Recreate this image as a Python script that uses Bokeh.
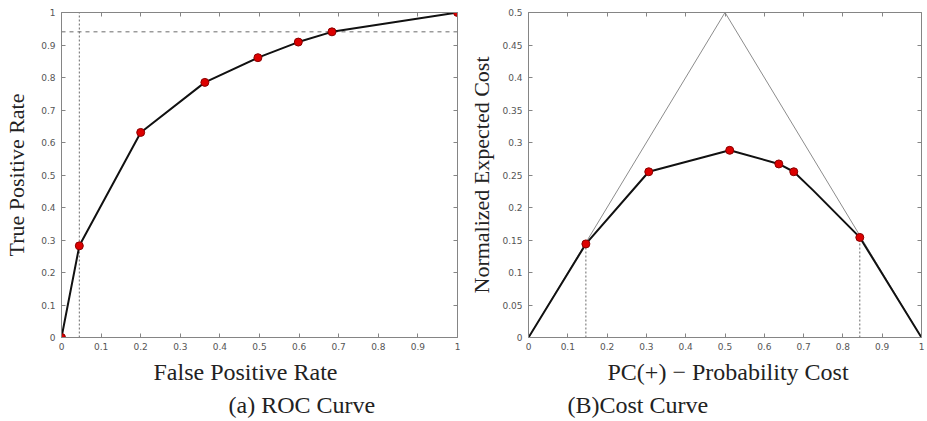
from bokeh.plotting import figure
from bokeh.models import FixedTicker, LinearAxis, Range1d, Title
from bokeh.layouts import row
from bokeh.embed import file_html
from bokeh.resources import INLINE

# ---------------- data ----------------
roc_fpr = [0.0, 0.045, 0.2, 0.362, 0.496, 0.598, 0.683, 1.0]
roc_tpr = [0.0, 0.282, 0.631, 0.785, 0.861, 0.909, 0.9405, 1.0]
roc_ref_fpr = 0.045
roc_ref_tpr = 0.9405

cost_line_pc = [0.0, 0.146, 0.306, 0.512, 0.637, 0.675, 0.725, 0.843, 1.0]
cost_line_nec = [0.0, 0.144, 0.255, 0.288, 0.267, 0.255, 0.226, 0.154, 0.0]
cost_pt_pc = [0.146, 0.306, 0.512, 0.637, 0.675, 0.843]
cost_pt_nec = [0.144, 0.255, 0.288, 0.267, 0.255, 0.154]
trivial_pc = [0.0, 0.5, 1.0]
trivial_nec = [0.0, 0.5, 0.0]
drop_pc = [0.146, 0.843]
drop_nec = [0.144, 0.154]

unit_ticks = [0.0, 0.1, 0.2, 0.3, 0.4, 0.5, 0.6, 0.7, 0.8, 0.9, 1.0]
unit_tick_labels = ["0", "0.1", "0.2", "0.3", "0.4", "0.5", "0.6", "0.7", "0.8", "0.9", "1"]
cost_y_ticks = [0.0, 0.05, 0.1, 0.15, 0.2, 0.25, 0.3, 0.35, 0.4, 0.45, 0.5]
cost_y_tick_labels = ["0", "0.05", "0.1", "0.15", "0.2", "0.25", "0.3", "0.35", "0.4", "0.45", "0.5"]

roc_x_title = "False Positive Rate"
roc_y_title = "True Positive Rate"
roc_caption = "(a) ROC Curve"
cost_x_title = "PC(+) \u2212 Probability Cost"
cost_y_title = "Normalized Expected Cost"
cost_caption = "(B)Cost Curve"

# ---------------- style ----------------
AXIS_COLOR = "#858585"
TICK_FONT = "DejaVu Sans"
SERIF = "Liberation Serif"
TEXT_COLOR = "#222222"
RED = "#dd0000"
RED_EDGE = "#8a0000"


def style_axis(ax, ticks, labels, show_labels, standoff):
    ax.ticker = FixedTicker(ticks=ticks)
    ax.major_label_overrides = {t: l for t, l in zip(ticks, labels)}
    ax.axis_line_color = AXIS_COLOR
    ax.axis_line_width = 1
    ax.major_tick_line_color = AXIS_COLOR
    ax.major_tick_in = 4
    ax.major_tick_out = 0
    ax.minor_tick_line_color = None
    ax.major_label_text_font = TICK_FONT
    ax.major_label_text_font_size = "9px"
    if show_labels:
        ax.major_label_text_color = "#555555"
        ax.major_label_standoff = standoff
    else:
        ax.major_label_text_color = None
        ax.major_label_standoff = 0


def make_fig(width, height, yr, bl, br, bt, bb, yticks, ylabels, ytitle, ytitle_standoff):
    p = figure(width=width, height=height, x_range=Range1d(0, 1), y_range=Range1d(*yr),
               output_backend="svg", toolbar_location=None,
               min_border_left=bl, min_border_right=br, min_border_top=bt, min_border_bottom=bb,
               x_axis_location=None, y_axis_location=None)
    p.grid.visible = False
    p.outline_line_color = None
    p.background_fill_color = "white"
    p.border_fill_color = "white"
    bx = LinearAxis()
    style_axis(bx, unit_ticks, unit_tick_labels, True, 5)
    p.add_layout(bx, "below")
    ly = LinearAxis()
    style_axis(ly, yticks, ylabels, True, 6)
    ly.axis_label = ytitle
    ly.axis_label_text_font = SERIF
    ly.axis_label_text_font_size = "22px"
    ly.axis_label_text_font_style = "normal"
    ly.axis_label_text_color = TEXT_COLOR
    ly.axis_label_standoff = ytitle_standoff
    p.add_layout(ly, "left")
    tx = LinearAxis()
    style_axis(tx, unit_ticks, unit_tick_labels, False, 0)
    p.add_layout(tx, "above")
    ry = LinearAxis()
    style_axis(ry, yticks, ylabels, False, 0)
    p.add_layout(ry, "right")
    return p


def add_below_title(p, txt, offset, standoff):
    # left-aligned title, shifted right of the frame's left edge by `offset` px
    p.add_layout(Title(text=txt, align="left", offset=offset, standoff=standoff,
                       text_font=SERIF, text_font_size="24px", text_font_style="normal",
                       text_color=TEXT_COLOR), "below")


FIG_H = 421

# ---------------- ROC ----------------
p1 = make_fig(466, FIG_H, (0, 1), 61, 9, 9, 81, unit_ticks, unit_tick_labels, roc_y_title, 9)
p1.line([roc_ref_fpr, roc_ref_fpr], [0, 1], line_color="#6a6a6a", line_width=1, line_dash="2 2")
p1.line([0, 1], [roc_ref_tpr, roc_ref_tpr], line_color="#6a6a6a", line_width=1, line_dash="4 4")
p1.line(roc_fpr, roc_tpr, line_color="#111111", line_width=2)
p1.scatter(roc_fpr, roc_tpr, size=8, fill_color=RED, line_color=RED_EDGE, line_width=1)
add_below_title(p1, roc_x_title, 92, 9)
add_below_title(p1, roc_caption, 167, 0)

# ---------------- Cost curve ----------------
p2 = make_fig(461, FIG_H, (0, 0.5), 62, 6, 12, 84, cost_y_ticks, cost_y_tick_labels, cost_y_title, 5)
p2.line(trivial_pc, trivial_nec, line_color="#8c8c8c", line_width=1)
for xx, yy in zip(drop_pc, drop_nec):
    p2.line([xx, xx], [0, yy], line_color="#6a6a6a", line_width=1, line_dash="2 2")
p2.line(cost_line_pc, cost_line_nec, line_color="#111111", line_width=2)
p2.scatter(cost_pt_pc, cost_pt_nec, size=8, fill_color=RED, line_color=RED_EDGE, line_width=1)
add_below_title(p2, cost_x_title, 79, 9)
add_below_title(p2, cost_caption, 39, 0)

layout = row(p1, p2)
open("out.html", "w").write(file_html(layout, INLINE))
